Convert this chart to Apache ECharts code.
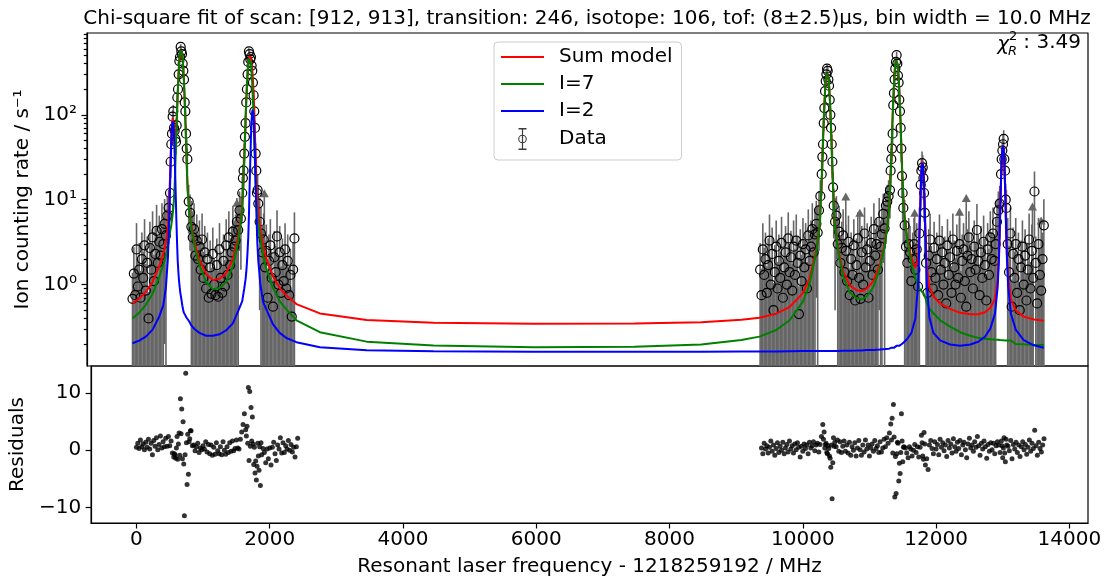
<!DOCTYPE html>
<html>
<head>
<meta charset="utf-8">
<script src="https://cdn.jsdelivr.net/npm/echarts@6/dist/echarts.min.js"></script>
<style>
html, body {margin: 0; padding: 0; background: #fff;}
#main {width: 1113px; height: 581px;}
</style>
</head>
<body>
<div id="main"></div>
<script>
// binned scans, 20 MHz between plotted points
var binStep = 20

var scanAStart = 0
var scanARate = [
    0.68, 1.35, 0.75, 2.6, 0.95, 1.5, 0.7, 2.0, 1.2, 2.9,
    0.85, 1.8, 0.4, 2.7, 1.5, 3.6, 1.1, 2.3, 4.3, 1.8,
    3.2, 2.2, 4.5, 3.0, 5.2, 3.8, 6.5, 8.0, 12, 45,
    95, 70, 52, 75, 200, 430, 630, 520, 330, 140,
    60, 30, 9.5, 7.0, 4.8, 3.6, 4.5, 2.2, 3.3, 2.0,
    2.8, 1.5, 3.4, 1.2, 2.4, 0.9, 2.0, 0.7, 1.6, 0.78,
    2.3, 1.0, 0.75, 1.7, 0.72, 2.6, 1.2, 0.8, 1.9, 0.95,
    2.9, 1.3, 3.6, 1.7, 2.4, 4.2, 2.8, 3.3, 5.5, 4.4,
    7.5, 6.0, 12, 22, 55, 140, 300, 560, 450, 380,
    240, 110, 35, 12, 9, 5.5, 4.0, 2.4, 3.4, 1.6,
    2.5, 0.7, 1.9, 2.9, 1.2, 0.55, 2.1, 1.4, 3.7, 1.0,
    2.4, 0.8, 1.7, 1.1, 2.6, 0.9, 1.9, 0.75, 1.3, 0.42,
    1.5, 3.5
]
var scanAErr = [
    0.7, 1.4, 0.8, 2.7, 1.0, 1.6, 0.75, 2.1, 1.25, 3.0,
    0.9, 1.9, 0.42, 2.8, 1.6, 3.7, 1.15, 2.4, 4.4, 1.9,
    3.3, 2.3, 4.6, 3.1, 5.0, 3.9, 4.5, 5.0, 6.5, 13,
    19, 16, 14, 17, 28, 42, 50, 46, 36, 24,
    15, 10, 5.5, 4.5, 4.9, 3.7, 4.6, 2.3, 3.4, 2.1,
    2.9, 1.6, 3.5, 1.25, 2.5, 0.95, 2.1, 0.75, 1.7, 0.8,
    2.4, 1.05, 0.8, 1.8, 0.75, 2.7, 1.25, 0.85, 2.0, 1.0,
    3.0, 1.35, 3.7, 1.8, 2.5, 4.3, 2.9, 3.4, 5.0, 4.5,
    5.0, 4.5, 6.5, 9, 14, 24, 35, 47, 42, 39,
    31, 21, 11, 6.5, 5.5, 5.0, 4.1, 2.5, 3.5, 1.7,
    2.6, 0.75, 2.0, 3.0, 1.25, 0.6, 2.2, 1.45, 3.8, 1.05,
    2.5, 0.85, 1.8, 1.15, 2.7, 0.95, 2.0, 0.8, 1.35, 0.45,
    1.6, 3.6
]
var scanAResid = [
    0.5, 1.2, 0.3, 1.8, 0.6, 1.1, 0.1, 1.4, 0.5, 1.9,
    0.2, 1.2, -0.8, 1.7, 0.7, 2.2, 0.1, 1.0, 2.5, 0.4,
    1.5, 0.6, 2.1, 0.7, 2.4, 0.8, 1.6, -0.5, -1.2, -0.8,
    0.4, -1.6, 3.0, 9.0, 7.2, 5.0, -11.5, 13.5, -6.0, -4.2,
    2.0, 3.4, 0.8, 0.9, -0.1, 0.6, 1.2, -0.4, 0.4, 0.1,
    0.8, 0.2, 1.5, -0.3, 1.0, -0.6, 0.9, -0.9, 0.5, -0.7,
    1.3, -0.1, -0.6, 0.6, -0.8, 1.5, 0.0, -0.7, 0.6, -0.4,
    1.3, -0.2, 1.6, -0.1, 0.3, 1.8, 0.4, 0.2, 1.9, 3.2,
    4.5, 6.4, 3.6, 4.2, 11.0, 10.3, 7.5, 5.8, -2.5, -4.0,
    -5.2, 1.2, -3.5, -6.2, -0.8, 0.3, -0.4, -2.2, 0.2, -1.5,
    0.4, -2.6, 0.5, 1.4, -0.6, -1.8, 0.9, 0.2, 2.2, -0.5,
    1.3, -0.4, 0.8, 0.2, 1.7, 0.0, 1.0, -0.3, 0.5, -1.2,
    0.6, 2.1
]

var scanBStart = 9380
var scanBRate = [
    1.5, 0.75, 2.6, 1.3, 2.0, 0.8, 1.7, 3.3, 1.0, 2.3,
    0.5, 1.4, 2.8, 0.9, 1.9, 1.2, 3.1, 0.7, 1.6, 2.4,
    1.0, 3.5, 1.4, 2.1, 0.85, 2.8, 1.3, 3.3, 1.8, 0.45,
    2.2, 1.1, 3.0, 1.6, 2.6, 0.9, 3.8, 1.9, 2.8, 4.5,
    2.4, 3.9, 5.2, 4.1, 7.5, 11, 20, 45, 120, 250,
    350, 260, 150, 70, 28, 8.5, 5.5, 6.5, 3.0, 4.2,
    1.8, 2.7, 3.8, 1.4, 2.5, 1.1, 3.2, 0.75, 2.0, 1.3,
    2.9, 0.65, 1.7, 3.5, 1.2, 0.68, 2.4, 1.0, 4.0, 1.6,
    2.6, 0.7, 1.9, 3.1, 1.3, 4.5, 2.2, 3.0, 1.5, 5.5,
    2.8, 3.9, 6.8, 4.6, 8.5, 9.5, 11, 13, 30, 60,
    180, 350, 505, 290, 150, 70, 19, 8, 5.0, 2.8,
    1.8, 3.0, 2.4, 1.1, 2.0, 3.0, 1.5, 2.6, 0.95, 4.0,
    15, 27, 18, 7, 1.8, 0.8, 2.2, 3.4, 1.4, 0.9,
    2.7, 1.2, 2.0, 0.75, 3.3, 1.5, 2.4, 1.0, 1.8, 0.6,
    2.9, 1.3, 2.1, 0.8, 3.4, 1.6, 1.0, 2.5, 1.2, 3.0,
    0.7, 1.9, 2.6, 1.1, 0.55, 2.2, 3.6, 1.4, 2.0, 0.9,
    2.8, 1.5, 4.4, 1.9, 0.75, 2.4, 1.2, 3.2, 1.7, 0.65,
    2.6, 1.3, 3.6, 2.0, 4.0, 1.9, 3.0, 5.5, 7.5, 9.0,
    20, 38, 52, 22, 8, 3.0, 1.4, 4.0, 0.55, 2.3,
    1.2, 3.0, 0.8, 2.0, 0.5, 1.6, 2.8, 1.0, 2.2, 0.65,
    1.5, 3.4, 0.9, 2.5, 1.2, 12.5, 1.8, 0.6, 3.0, 1.3,
    0.85, 2.0, 5.0
]
var scanBErr = [
    1.6, 0.8, 2.7, 1.4, 2.1, 0.85, 1.8, 3.4, 1.05, 2.4,
    0.55, 1.5, 2.9, 0.95, 2.0, 1.25, 3.2, 0.75, 1.7, 2.5,
    1.05, 3.6, 1.5, 2.2, 0.9, 2.9, 1.35, 3.4, 1.9, 0.5,
    2.3, 1.15, 3.1, 1.7, 2.7, 0.95, 3.9, 2.0, 2.9, 4.6,
    2.5, 4.0, 4.5, 4.2, 5.0, 6.0, 9, 13, 22, 32,
    37, 32, 25, 16, 10, 5.0, 5.0, 4.5, 3.1, 4.3,
    1.9, 2.8, 3.9, 1.5, 2.6, 1.15, 3.3, 0.8, 2.1, 1.35,
    3.0, 0.7, 1.8, 3.6, 1.25, 0.72, 2.5, 1.05, 4.1, 1.7,
    2.7, 0.75, 2.0, 3.2, 1.35, 4.6, 2.3, 3.1, 1.6, 5.0,
    2.9, 4.0, 5.0, 4.7, 5.5, 5.5, 6.0, 7.0, 10, 15,
    27, 37, 45, 34, 25, 16, 8.5, 5.0, 5.0, 2.9,
    1.9, 3.1, 2.5, 1.15, 2.1, 3.1, 1.6, 2.7, 1.0, 4.1,
    7.5, 10, 8, 5.0, 1.9, 0.85, 2.3, 3.5, 1.45, 0.95,
    2.8, 1.25, 2.1, 0.8, 3.4, 1.6, 2.5, 1.05, 1.9, 0.65,
    3.0, 1.35, 2.2, 0.85, 3.5, 1.7, 1.05, 2.6, 1.25, 3.1,
    0.75, 2.0, 2.7, 1.15, 0.6, 2.3, 3.7, 1.45, 2.1, 0.95,
    2.9, 1.6, 4.5, 2.0, 0.8, 2.5, 1.25, 3.3, 1.8, 0.7,
    2.7, 1.35, 3.7, 2.1, 4.1, 2.0, 3.1, 4.5, 5.0, 5.5,
    8.5, 12, 14, 9, 5.0, 3.1, 1.45, 4.1, 0.6, 2.4,
    1.25, 3.1, 0.85, 2.1, 0.55, 1.7, 2.9, 1.05, 2.3, 0.7,
    1.6, 3.5, 0.95, 2.6, 1.25, 9, 1.9, 0.65, 3.1, 1.35,
    0.9, 2.1, 5.1
]
var scanBResid = [
    0.4, -0.6, 1.2, 0.2, 0.8, -0.5, 0.5, 1.6, -0.2, 0.9,
    -0.9, 0.3, 1.3, -0.4, 0.7, 0.0, 1.4, -0.6, 0.4, 1.0,
    -0.3, 1.6, 0.2, 0.8, -0.5, 1.1, 0.1, 1.3, 0.5, -1.2,
    0.7, -0.2, 1.1, 0.3, 0.9, -0.6, 1.4, 0.4, 0.8, 1.5,
    -0.1, 0.9, 1.2, -0.3, 1.0, 2.4, 4.5, 3.2, 1.0, -0.4,
    0.8, -1.0, -3.0, -8.5, 2.2, 1.4, 0.6, 1.8, -0.2, 1.5,
    -0.4, 0.7, 1.6, -0.2, 0.9, -0.5, 1.4, -0.9, 0.6, 0.0,
    1.3, -1.0, 0.4, 1.7, 0.1, -0.9, 0.9, -0.3, 1.8, 0.2,
    0.9, -1.0, 0.4, 1.1, -0.2, 1.7, 0.3, 0.8, -0.4, 1.5,
    -0.3, 0.4, 1.9, 0.6, 2.2, 1.2, 3.0, 4.6, 5.6, 8.0,
    -8.2, -7.6, 1.4, -5.4, -4.1, 6.4, -2.0, 0.6, 0.4, -0.5,
    -1.3, 0.6, 0.2, -1.0, 0.0, 1.0, -0.4, 0.6, -1.2, 0.5,
    2.6, -1.0, 3.1, -2.6, -1.5, -3.4, 0.9, 1.7, 0.3, -0.6,
    1.5, 0.2, 1.0, -0.8, 1.9, 0.5, 1.3, -0.1, 0.9, -1.1,
    1.7, 0.4, 1.1, -0.5, 2.0, 0.6, -0.2, 1.4, 0.3, 1.7,
    -0.8, 0.9, 1.4, 0.1, -1.3, 1.1, 2.1, 0.4, 0.9, -0.2,
    1.5, 0.5, 2.4, 0.8, -0.9, 1.2, 0.2, 1.6, 0.6, -1.4,
    1.0, -0.2, 1.3, 0.1, 1.2, -0.6, 0.8, 1.5, 0.9, -0.4,
    1.6, -1.3, 2.2, -2.0, 0.9, 0.7, -0.1, 1.7, -1.5, 1.0,
    0.2, 1.4, -0.4, 0.9, -1.1, 0.6, 1.5, 0.1, 1.0, -0.7,
    0.5, 1.8, -0.2, 1.2, 0.3, 3.5, 0.8, -0.9, 1.4, 0.3,
    -0.3, 0.9, 2.0
]

// second scan's bins that fall between the ones above, around the peaks
var extraFreq = [
    570, 590, 610, 630, 650, 670, 690, 710, 730, 750, 770, 790, 810,
    1650, 1670, 1690, 1710, 1730, 1750, 1770, 1790, 1810, 1830, 1850, 1870,
    10310, 10330, 10350, 10370, 10390, 10410, 10430, 10450, 10470,
    11330, 11350, 11370, 11390, 11410, 11430, 11450, 11470, 11490, 11510,
    11790, 11810, 11830,
    12990, 13010, 13030, 13050
]
var extraRate = [
    28, 60, 110, 65, 48, 160, 300, 480, 560, 400, 260, 110, 40,
    18, 35, 80, 200, 420, 520, 480, 330, 170, 70, 22, 13,
    32, 80, 190, 300, 330, 220, 100, 45, 14,
    22, 40, 130, 260, 420, 400, 240, 110, 40, 12,
    22, 24, 12,
    30, 45, 30, 10
]
var extraErr = [
    10, 15, 21, 16, 14, 25, 35, 43, 47, 39, 32, 21, 13,
    8, 11, 17, 28, 40, 45, 43, 36, 26, 16, 9, 7,
    10, 17, 27, 35, 36, 30, 20, 13, 7,
    9, 12, 23, 32, 40, 39, 31, 21, 12, 6.5,
    9, 9.5, 6.5,
    10, 13, 10, 5.5
]
var extraResid = [
    -0.6, -1.4, 2.4, 1.1, -0.9, 2.9, -1.5, -2.4, -0.8, 1.3, 2.8, 1.5, 3.4,
    2.5, 1.2, -1.8, 0.7, 1.6, 1.1, 0.5, -1.9, -2.8, -1.0, 0.6, 1.3,
    1.9, 0.4, 1.2, -0.6, 0.3, -1.4, 0.9, -2.2, 0.7,
    1.8, -0.5, 2.3, -1.1, -0.6, 1.2, -2.3, -0.4, 1.6, 0.5,
    1.3, -1.6, 1.1,
    0.8, 0.4, -0.5, 1.9
]

// points that only give a lower limit (drawn with an arrow head)
var limitFreq = [1560, 1970, 10660, 10870, 11690, 12360, 12460, 13450, 13580]
var limitTop = [9.2, 11.9, 10.9, 7.0, 7.0, 7.2, 10.5, 8.3, 5.7]

// fitted model
var modelFreq = [
    0, 100, 200, 300, 400, 460, 500, 530, 550, 565,
    578, 586, 594, 602, 610, 618, 626, 640, 656, 666,
    676, 686, 696, 706, 716, 726, 736, 746, 756, 766,
    776, 786, 796, 806, 816, 826, 846, 876, 926, 1000,
    1100, 1200, 1300, 1400, 1500, 1580, 1640, 1670, 1690, 1700,
    1710, 1720, 1730, 1740, 1750, 1760, 1770, 1780, 1788, 1796,
    1804, 1812, 1820, 1830, 1840, 1850, 1865, 1880, 1910, 1950,
    2000, 2100, 2200, 2300, 2450, 2800, 3500, 4500, 6000, 7500,
    8500, 9100, 9370, 9620, 9820, 10020, 10120, 10220, 10270, 10303,
    10323, 10333, 10343, 10353, 10363, 10373, 10383, 10393, 10403, 10413,
    10423, 10433, 10443, 10463, 10493, 10550, 10620, 10720, 10820, 10900,
    10970, 11070, 11170, 11250, 11308, 11338, 11358, 11368, 11378, 11388,
    11398, 11408, 11418, 11428, 11438, 11448, 11458, 11468, 11478, 11498,
    11528, 11580, 11640, 11700, 11740, 11760, 11774, 11782, 11790, 11798,
    11806, 11814, 11822, 11830, 11838, 11852, 11872, 11910, 11970, 12070,
    12220, 12370, 12520, 12640, 12740, 12820, 12890, 12930, 12950, 12965,
    12977, 12985, 12993, 13001, 13009, 13017, 13025, 13033, 13041, 13053,
    13068, 13088, 13128, 13200, 13320, 13470, 13620
]
var sumModel = [
    0.602, 0.686, 0.822, 1.075, 1.65, 2.29, 3.14, 4.96, 10.2, 23,
    48.8, 68.7, 84.4, 91.1, 86.3, 73, 56.1, 42, 68.9, 114.3,
    182, 277.6, 391.3, 505, 577, 601, 577, 505, 391, 277,
    181, 112, 63.6, 35.4, 19.8, 12.7, 7.9, 5.17, 3.12, 1.97,
    1.33, 1.13, 1.17, 1.36, 2.0, 3.7, 8.1, 29, 90.3, 145.7,
    222.8, 314.7, 406.8, 467.5, 494, 489, 457, 398.7, 347.4, 288,
    227.4, 166, 110.6, 60.4, 30.8, 17.5, 9.9, 7.0, 4.5, 2.88,
    2.05, 1.25, 0.91, 0.745, 0.59, 0.458, 0.382, 0.356, 0.345, 0.348,
    0.36, 0.386, 0.407, 0.455, 0.544, 0.795, 1.19, 2.57, 4.97, 19,
    59.6, 96.4, 147.6, 208.4, 269.2, 307.6, 320.4, 307.6, 269.2, 208.4,
    147.6, 96.4, 59.6, 19.1, 5.4, 2.5, 1.43, 0.98, 0.86, 0.84,
    0.89, 1.1, 1.72, 3.27, 7.55, 27.1, 85.5, 138.4, 212, 299.4,
    386.8, 442, 460.4, 442, 386.8, 299.4, 212, 138.4, 85.5, 27.1,
    7.6, 3.53, 2.09, 1.58, 1.97, 4.3, 9.67, 15.05, 21.2, 26.1,
    28, 26.1, 21.2, 15, 9.58, 4.1, 1.58, 0.93, 0.73, 0.6,
    0.517, 0.465, 0.447, 0.448, 0.473, 0.53, 0.68, 1.16, 2.28, 6.0,
    14.1, 22.7, 32.6, 40.4, 43.4, 40.4, 32.6, 22.7, 14.1, 6.0,
    2.28, 1.16, 0.675, 0.495, 0.42, 0.389, 0.375
]
var iso7Model = [
    0.398, 0.467, 0.578, 0.78, 1.23, 1.715, 2.2, 2.86, 3.7, 4.3,
    4.9, 5.5, 6.1, 6.9, 8.0, 9.8, 12.2, 24.2, 63.2, 111.2,
    180.2, 276.2, 390.2, 504.2, 576.2, 600.2, 576.2, 504.2, 390.2, 276.2,
    180.2, 111.2, 63.2, 35.0, 19.4, 12.3, 7.5, 4.84, 2.82, 1.70,
    1.08, 0.884, 0.91, 1.07, 1.65, 3.2, 7.5, 28.1, 89.1, 144.3,
    221, 312.2, 403.2, 461, 480.2, 461, 403.2, 312.2, 240.2, 173,
    120.2, 79.4, 50.6, 28, 15.6, 9.8, 6.7, 5.1, 3.5, 2.25,
    1.54, 0.91, 0.64, 0.51, 0.38, 0.275, 0.213, 0.192, 0.183, 0.186,
    0.197, 0.223, 0.244, 0.292, 0.38, 0.63, 1.02, 2.4, 4.8, 18.8,
    59.4, 96.2, 147.4, 208.2, 269, 307.4, 320.2, 307.4, 269, 208.2,
    147.4, 96.2, 59.4, 18.9, 5.2, 2.33, 1.26, 0.81, 0.69, 0.672,
    0.72, 0.93, 1.55, 3.1, 7.37, 26.9, 85.3, 138.2, 211.8, 299.2,
    386.6, 441.8, 460.2, 441.8, 386.6, 299.2, 211.8, 138.2, 85.3, 26.9,
    7.4, 3.3, 1.82, 1.18, 0.99, 0.9, 0.86, 0.85, 0.84, 0.83,
    0.81, 0.8, 0.79, 0.78, 0.77, 0.69, 0.6, 0.52, 0.46, 0.38,
    0.32, 0.275, 0.25, 0.236, 0.23, 0.227, 0.225, 0.224, 0.223, 0.222,
    0.222, 0.222, 0.221, 0.221, 0.221, 0.22, 0.22, 0.22, 0.22, 0.22,
    0.22, 0.22, 0.22, 0.2, 0.198, 0.196, 0.195
]
var iso2Model = [
    0.204, 0.219, 0.244, 0.295, 0.422, 0.57, 0.94, 2.1, 6.47, 18.7,
    43.9, 63.2, 78.3, 84.2, 78.3, 63.2, 43.9, 17.8, 5.7, 3.1,
    1.9, 1.4, 1.1, 0.92, 0.79, 0.71, 0.63, 0.56, 0.51, 0.47,
    0.46, 0.44, 0.42, 0.41, 0.4, 0.39, 0.37, 0.333, 0.30, 0.27,
    0.25, 0.25, 0.26, 0.29, 0.35, 0.49, 0.64, 0.9, 1.16, 1.4,
    1.8, 2.5, 3.6, 6.5, 14, 27.8, 54.2, 86.5, 107.2, 115.2,
    107.2, 86.5, 60, 32.4, 15.2, 7.7, 3.2, 1.9, 1.03, 0.63,
    0.51, 0.34, 0.27, 0.235, 0.21, 0.183, 0.169, 0.164, 0.162, 0.162,
    0.162, 0.163, 0.163, 0.163, 0.164, 0.165, 0.165, 0.165, 0.165, 0.165,
    0.165, 0.165, 0.165, 0.165, 0.165, 0.165, 0.165, 0.165, 0.165, 0.165,
    0.165, 0.165, 0.165, 0.165, 0.165, 0.165, 0.166, 0.166, 0.167, 0.168,
    0.17, 0.17, 0.172, 0.174, 0.176, 0.18, 0.18, 0.18, 0.18, 0.18,
    0.18, 0.18, 0.19, 0.19, 0.19, 0.19, 0.19, 0.19, 0.19, 0.2,
    0.21, 0.23, 0.27, 0.4, 0.98, 3.41, 8.81, 14.2, 20.4, 25.3,
    27.16, 25.3, 20.4, 14.2, 8.81, 3.41, 0.98, 0.41, 0.27, 0.22,
    0.197, 0.19, 0.197, 0.212, 0.243, 0.303, 0.455, 0.935, 2.06, 5.8,
    13.9, 22.5, 32.4, 40.2, 43.16, 40.2, 32.4, 22.5, 13.9, 5.8,
    2.06, 0.935, 0.455, 0.295, 0.222, 0.193, 0.18
]

var freqTicks = [0, 2000, 4000, 6000, 8000, 10000, 12000, 14000]
var rateTicks = [1, 10, 100]
var rateMinorTicks = [0.2, 0.3, 0.4, 0.5, 0.6, 0.7, 0.8, 0.9, 2, 3, 4, 5, 6, 7, 8, 9,
    20, 30, 40, 50, 60, 70, 80, 90, 200, 300, 400, 500, 600, 700, 800, 900]
var residTicks = [-10, 0, 10]

var titleText = 'Chi-square fit of scan: [912, 913], transition: 246, isotope: 106, tof: (8\u00b12.5)\u03bcs, bin width = 10.0 MHz'
var fontName = '"DejaVu Sans", "Liberation Sans", sans-serif'
var rateMin = 0.11, rateMax = 920
var barColor = '#666666'
var supDigits = {'0': '\u2070', '1': '\u00b9', '2': '\u00b2', '3': '\u00b3'}

function binPoints(start, rates, errs) {
    var out = []
    for (var i = 0; i < rates.length; i++) out.push([start + i * binStep, rates[i], errs[i]])
    return out
}
function residPoints(start, res) {
    var out = []
    for (var i = 0; i < res.length; i++) out.push([start + i * binStep, res[i]])
    return out
}
function modelLine(vals) {
    return modelFreq.map(function (f, i) { return [f, vals[i]] })
}

var dataPts = binPoints(scanAStart, scanARate, scanAErr)
    .concat(binPoints(scanBStart, scanBRate, scanBErr))
    .concat(extraFreq.map(function (f, i) { return [f, extraRate[i], extraErr[i]] }))
var residPts = residPoints(scanAStart, scanAResid)
    .concat(residPoints(scanBStart, scanBResid))
    .concat(extraFreq.map(function (f, i) { return [f, extraResid[i]] }))
var limitPts = limitFreq.map(function (f, i) { return [f, limitTop[i]] })

function renderBar(params, api) {
    var f = api.value(0), y = api.value(1), e = api.value(2)
    var cs = params.coordSys
    var top = api.coord([f, y + e])
    var lowY = (y - e) > rateMin ? api.coord([f, y - e])[1] : cs.y + cs.height
    return {
        type: 'line',
        shape: {x1: top[0], y1: Math.max(top[1], cs.y), x2: top[0], y2: lowY},
        style: {stroke: barColor, lineWidth: 1.6}
    }
}
function renderLimit(params, api) {
    var cs = params.coordSys
    var p = api.coord([api.value(0), api.value(1)])
    return {
        type: 'group',
        children: [
            {type: 'line', shape: {x1: p[0], y1: p[1], x2: p[0], y2: cs.y + cs.height}, style: {stroke: barColor, lineWidth: 1.6}},
            {type: 'polygon', shape: {points: [[p[0], p[1] - 4], [p[0] - 4.5, p[1] + 4], [p[0] + 4.5, p[1] + 4]]}, style: {fill: barColor}}
        ]
    }
}

var dataIcon = 'path://M0.5 0H8.5V1.4H0.5Z M0.5 20.6H8.5V22H0.5Z M3.9 0H5.1V22H3.9Z' +
    ' M8.8 11A4.3 4.3 0 1 1 0.2 11A4.3 4.3 0 1 1 8.8 11Z M7.7 11A3.2 3.2 0 1 0 1.3 11A3.2 3.2 0 1 0 7.7 11Z'
var lineIcon = 'path://M0 0H43V2H0Z'

var axisLineStyle = {color: '#000', width: 1.2}
var tickStyle = {color: '#000', width: 1.2}

var option = {
    animation: false,
    backgroundColor: '#fff',
    textStyle: {fontFamily: fontName, color: '#000'},
    grid: [
        {left: 87, right: 25, top: 33, height: 333, show: true, borderColor: '#000', borderWidth: 1.2, backgroundColor: 'transparent'},
        {left: 87, right: 25, top: 366, height: 157, show: true, borderColor: '#000', borderWidth: 1.2, backgroundColor: 'transparent'}
    ],
    legend: {
        orient: 'vertical', left: 494, top: 42,
        padding: [5, 9, 10, 7],
        itemWidth: 43, itemHeight: 22, itemGap: 7,
        backgroundColor: 'rgba(255,255,255,0.8)', borderColor: '#cccccc', borderWidth: 1, borderRadius: 4,
        textStyle: {fontSize: 20, color: '#000', fontFamily: fontName, padding: [0, 0, 0, 10]},
        selectedMode: false,
        data: [
            {name: 'Sum model', icon: lineIcon},
            {name: 'I=7', icon: lineIcon},
            {name: 'I=2', icon: lineIcon},
            {name: 'Data', icon: dataIcon, itemStyle: {color: '#3a3a3a'}}
        ]
    },
    xAxis: [
        {
            gridIndex: 0, type: 'value', min: -680, max: 14280,
            axisLine: {show: false, onZero: false}, axisTick: {show: false}, axisLabel: {show: false}, splitLine: {show: false}
        },
        {
            gridIndex: 1, type: 'value', min: -680, max: 14280,
            axisLine: {show: true, onZero: false, lineStyle: axisLineStyle},
            axisTick: {show: true, customValues: freqTicks, length: 5.5, lineStyle: tickStyle},
            axisLabel: {customValues: freqTicks, fontSize: 20, color: '#000', margin: 7,
                formatter: function (v) { return String(v) }},
            splitLine: {show: false},
            name: 'Resonant laser frequency - 1218259192 / MHz',
            nameLocation: 'middle', nameGap: 34,
            nameTextStyle: {fontSize: 20, color: '#000'}
        }
    ],
    yAxis: [
        {
            gridIndex: 0, type: 'log', logBase: 10, min: rateMin, max: rateMax, position: 'left',
            axisLine: {show: true, onZero: false, lineStyle: axisLineStyle},
            axisTick: {show: true, customValues: rateTicks, length: 5.5, lineStyle: tickStyle},
            axisLabel: {
                customValues: rateTicks, fontSize: 20, color: '#000', margin: 10,
                formatter: function (v) { return '10' + supDigits[String(Math.round(Math.log10(v)))] }
            },
            splitLine: {show: false},
            name: 'Ion counting rate / s\u207b\u00b9',
            nameLocation: 'middle', nameGap: 52,
            nameTextStyle: {fontSize: 20, color: '#000'}
        },
        {
            gridIndex: 0, type: 'log', logBase: 10, min: rateMin, max: rateMax, position: 'left',
            axisLine: {show: false, onZero: false},
            axisTick: {show: true, customValues: rateMinorTicks, length: 3.2, lineStyle: tickStyle},
            axisLabel: {show: false},
            splitLine: {show: false}
        },
        {
            gridIndex: 1, type: 'value', min: -12.75, max: 14.75, position: 'left',
            axisLine: {show: true, onZero: false, lineStyle: axisLineStyle},
            axisTick: {show: true, customValues: residTicks, length: 5.5, lineStyle: tickStyle},
            axisLabel: {
                customValues: residTicks, fontSize: 20, color: '#000', margin: 10,
                formatter: function (v) { return v < 0 ? '\u2212' + Math.abs(v) : String(v) }
            },
            splitLine: {show: false},
            name: 'Residuals',
            nameLocation: 'middle', nameGap: 52,
            nameTextStyle: {fontSize: 20, color: '#000'}
        }
    ],
    series: [
        {
            name: 'Data', type: 'custom', xAxisIndex: 0, yAxisIndex: 0, z: 2, clip: true,
            renderItem: renderBar, data: dataPts, itemStyle: {color: barColor}
        },
        {
            name: 'Data', type: 'custom', xAxisIndex: 0, yAxisIndex: 0, z: 2, clip: true,
            renderItem: renderLimit, data: limitPts, itemStyle: {color: barColor}
        },
        {
            name: 'Data', type: 'scatter', xAxisIndex: 0, yAxisIndex: 0, z: 3,
            symbol: 'circle', symbolSize: 9,
            itemStyle: {color: 'rgba(0,0,0,0)', borderColor: '#000', borderWidth: 1.2, opacity: 1},
            data: dataPts.map(function (p) { return [p[0], p[1]] })
        },
        {
            name: 'Sum model', type: 'line', xAxisIndex: 0, yAxisIndex: 0, z: 4,
            showSymbol: false, symbol: 'none', color: '#ff0000',
            lineStyle: {color: '#ff0000', width: 2}, data: modelLine(sumModel)
        },
        {
            name: 'I=7', type: 'line', xAxisIndex: 0, yAxisIndex: 0, z: 5,
            showSymbol: false, symbol: 'none', color: '#008000',
            lineStyle: {color: '#008000', width: 2}, data: modelLine(iso7Model)
        },
        {
            name: 'I=2', type: 'line', xAxisIndex: 0, yAxisIndex: 0, z: 6,
            showSymbol: false, symbol: 'none', color: '#0000ff',
            lineStyle: {color: '#0000ff', width: 2}, data: modelLine(iso2Model)
        },
        {
            name: 'Residuals', type: 'scatter', xAxisIndex: 1, yAxisIndex: 2, z: 3,
            symbol: 'circle', symbolSize: 5, itemStyle: {color: '#000'},
            data: residPts
        }
    ],
    graphic: [
        {
            type: 'text', x: 587, y: 19, silent: true,
            style: {text: titleText, font: '20px ' + fontName, fill: '#000', align: 'center', verticalAlign: 'middle', textAlign: 'center', textVerticalAlign: 'middle'}
        },
        {
            type: 'text', x: 1009, y: 45, silent: true,
            style: {text: '\u03c7', font: 'italic 20px ' + fontName, fill: '#000', align: 'right', verticalAlign: 'middle', textAlign: 'right', textVerticalAlign: 'middle'}
        },
        {
            type: 'text', x: 1009, y: 37, silent: true,
            style: {text: '2', font: '13px ' + fontName, fill: '#000', align: 'left', verticalAlign: 'middle', textAlign: 'left', textVerticalAlign: 'middle'}
        },
        {
            type: 'text', x: 1008, y: 52, silent: true,
            style: {text: 'R', font: 'italic 13px ' + fontName, fill: '#000', align: 'left', verticalAlign: 'middle', textAlign: 'left', textVerticalAlign: 'middle'}
        },
        {
            type: 'text', x: 1081, y: 43, silent: true,
            style: {text: ': 3.49', font: '20px ' + fontName, fill: '#000', align: 'right', verticalAlign: 'middle', textAlign: 'right', textVerticalAlign: 'middle'}
        }
    ]
}

var chart = echarts.init(document.getElementById('main'), null, {renderer: 'canvas'})
chart.setOption(option)
</script>
</body>
</html>
